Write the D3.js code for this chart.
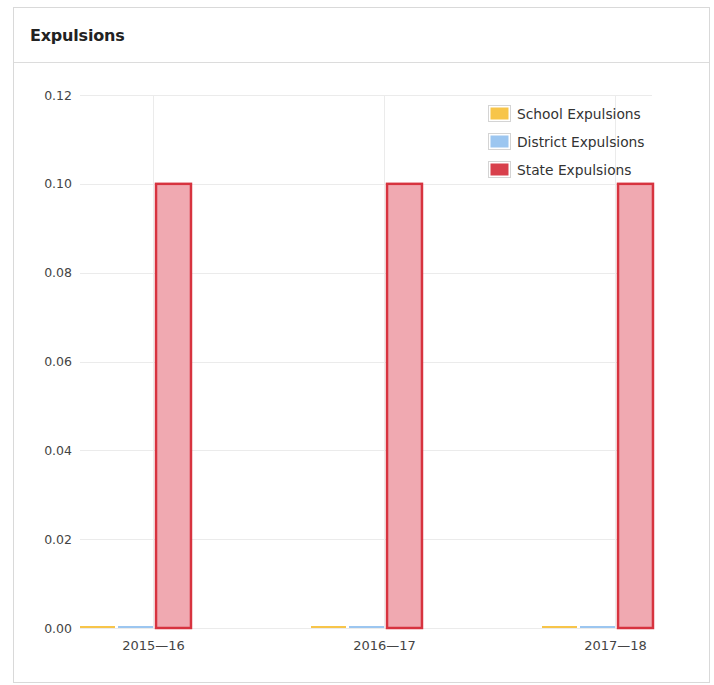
<!DOCTYPE html>
<html>
<head>
<meta charset="utf-8">
<script src="https://cdn.jsdelivr.net/npm/d3@7"></script>
<style>
  html, body { margin: 0; padding: 0; background: #fff; }
  svg { display: block; }
</style>
</head>
<body>
<svg id="chart" width="714" height="685"></svg>
<script>
const title = "Expulsions";
const categories = ["2015\u201416", "2016\u201417", "2017\u201418"];
const seriesNames = ["School Expulsions", "District Expulsions", "State Expulsions"];
const schoolValues = [0, 0, 0];
const districtValues = [0, 0, 0];
const stateValues = [0.10, 0.10, 0.10];
const yTicks = [0, 0.02, 0.04, 0.06, 0.08, 0.10, 0.12];

const seriesValues = [schoolValues, districtValues, stateValues];
const fills = ["#f7c54a", "#9cc6f0", "#f0a9b1"];
const strokes = ["#f5b935", "#86b6ea", "#d7333f"];

const svg = d3.select("#chart");

// card
svg.append("rect").attr("x", 13.5).attr("y", 7.5).attr("width", 696).attr("height", 675)
  .attr("fill", "#fff").attr("stroke", "#d9d9d9");
svg.append("line").attr("x1", 14).attr("x2", 709).attr("y1", 62.5).attr("y2", 62.5)
  .attr("stroke", "#dcdcdc");
svg.append("text").attr("x", 30).attr("y", 41).text(title)
  .attr("font-family", "DejaVu Sans").attr("font-weight", "bold").attr("font-size", 16)
  .attr("fill", "#222").attr("letter-spacing", -0.2);

const plotLeft = 80, plotRight = 652, plotTop = 95, plotBottom = 628;

const y = d3.scaleLinear().domain([0, 0.12]).range([plotBottom, plotTop]);
const x0 = d3.scalePoint().domain(categories).range([153, 615]);
// four slots per group: three series plus an empty slot
const slotKeys = [0, 1, 2, 3];
const x1 = d3.scaleBand().domain(slotKeys).range([-74.5, 77.5]).paddingInner(0.08).paddingOuter(0.04);

// horizontal grid
const gGrid = svg.append("g");
gGrid.selectAll("line.h").data(yTicks).join("line")
  .attr("x1", plotLeft).attr("x2", plotRight)
  .attr("y1", d => Math.round(y(d)) + 0.5).attr("y2", d => Math.round(y(d)) + 0.5)
  .attr("stroke", "#ebebeb");
// vertical grid
gGrid.selectAll("line.v").data(categories).join("line")
  .attr("x1", d => Math.round(x0(d)) + 0.5).attr("x2", d => Math.round(x0(d)) + 0.5)
  .attr("y1", plotTop).attr("y2", plotBottom)
  .attr("stroke", "#ebebeb");

// y axis
const yAxis = d3.axisLeft(y).tickValues(yTicks).tickFormat(d3.format(".2f")).tickSize(0).tickPadding(8);
const gy = svg.append("g").attr("transform", `translate(${plotLeft},0)`).call(yAxis);
gy.select(".domain").remove();
gy.selectAll("text").attr("font-family", "DejaVu Sans").attr("font-size", 12.5).attr("fill", "#444");

// x axis
const xAxis = d3.axisBottom(x0).tickSize(0).tickPadding(13);
const gx = svg.append("g").attr("transform", `translate(0,${plotBottom})`).call(xAxis);
gx.select(".domain").remove();
gx.selectAll("text").attr("font-family", "DejaVu Sans").attr("font-size", 13).attr("fill", "#444");

// bars
seriesValues.forEach((vals, si) => {
  svg.append("g").selectAll("rect").data(vals.map((v, i) => ({ v, c: categories[i] }))).join("rect")
    .attr("x", d => x0(d.c) + x1(si))
    .attr("width", x1.bandwidth())
    .attr("y", d => Math.min(y(d.v), plotBottom - 2))
    .attr("height", d => Math.max(plotBottom - y(d.v), 2))
    .attr("fill", fills[si])
    .attr("stroke", d => d.v > 0 ? strokes[si] : "none")
    .attr("stroke-width", 2.5);
});

// legend
const legend = svg.append("g").attr("transform", "translate(488,105)");
seriesNames.forEach((name, i) => {
  const g = legend.append("g").attr("transform", `translate(0,${i * 28})`);
  g.append("rect").attr("x", 0.5).attr("y", 0.5).attr("width", 22).attr("height", 16)
    .attr("fill", "#fff").attr("stroke", "#d4d4d4");
  g.append("rect").attr("x", 2.5).attr("y", 2.5).attr("width", 18).attr("height", 12)
    .attr("fill", i === 2 ? "#d8404c" : fills[i]);
  g.append("text").attr("x", 29).attr("y", 13.5).text(name)
    .attr("font-family", "DejaVu Sans").attr("font-size", 13.8).attr("fill", "#333");
});
</script>
</body>
</html>
